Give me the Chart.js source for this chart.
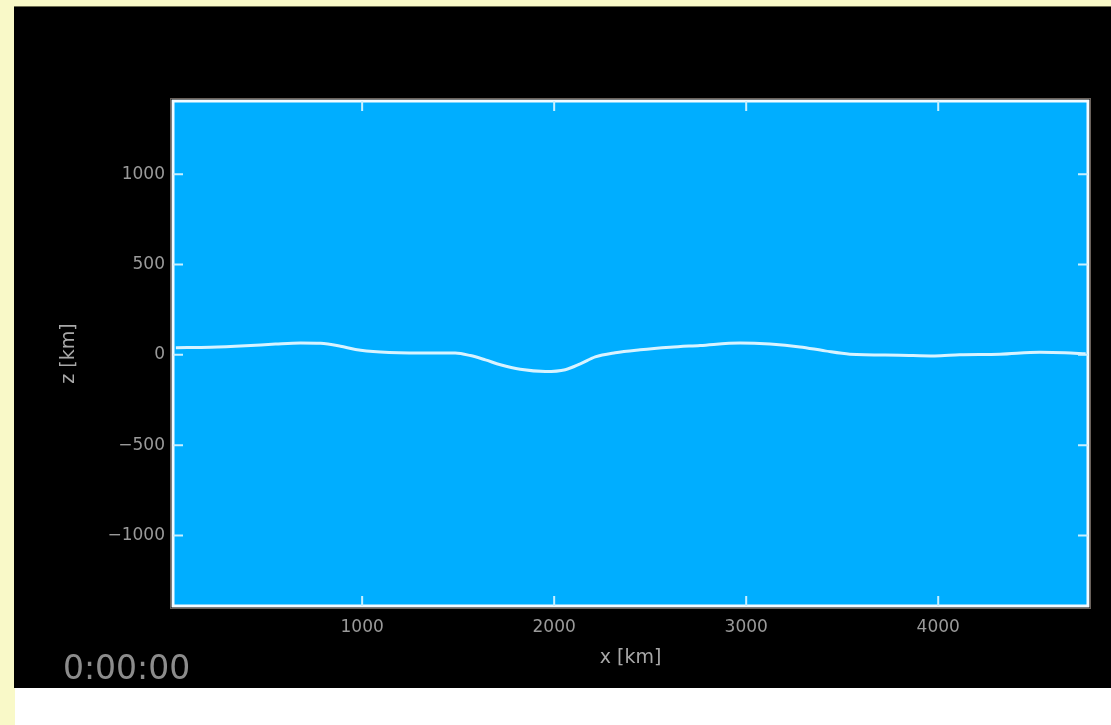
<!DOCTYPE html>
<html>
<head>
<meta charset="utf-8">
<script src="https://cdn.jsdelivr.net/npm/chart.js@4.4.1/dist/chart.umd.min.js"></script>
<style>
  html, body { margin: 0; padding: 0; width: 1111px; height: 725px; overflow: hidden; background: #f9f9c8; }
  #panel { position: absolute; left: 14px; top: 6px; width: 1097px; height: 682px; background: #000; }
  #topline { position: absolute; left: 14px; top: 6px; width: 1097px; height: 1px; background: #6d6d52; }
  #foot { position: absolute; left: 15px; top: 688px; width: 1096px; height: 37px; background: #fff; }
</style>
</head>
<body>
<div id="panel"><canvas id="chart" width="1097" height="682"></canvas></div>
<div id="topline"></div>
<div id="foot"></div>
<script>
// interface profile
const xKm = [30, 211, 393, 549, 679, 783, 887, 965, 1095, 1303, 1485, 1564, 1642, 1720,
             1823, 1954, 2058, 2136, 2214, 2318, 2448, 2604, 2760, 2968, 3124, 3280,
             3410, 3540, 3800, 3982, 4112, 4321, 4529, 4659, 4768];
const zKm = [40, 42, 50, 60, 66, 64, 48, 30, 16, 10, 10, -4, -28, -55,
             -80, -92, -82, -50, -11, 12, 28, 42, 52, 66, 60, 44,
             22, 4, -2, -6, 0, 3, 14, 12, 6];
const xTicks = [1000, 2000, 3000, 4000];
const zTicks = [-1000, -500, 0, 500, 1000];
const xRange = [15, 4780];
const zRange = [-1390, 1405];
const timeLabel = "0:00:00";

const labelColor = "#9a9a9a";
const fmt = v => (v < 0 ? "\u2212" + Math.abs(v) : String(v));

// blue plot background
const plotBg = {
  id: "plotBg",
  beforeDraw(chart) {
    const {ctx, chartArea: a} = chart;
    ctx.save();
    ctx.fillStyle = "#00aeff";
    ctx.fillRect(a.left, a.top, a.right - a.left, a.bottom - a.top);
    ctx.restore();
  }
};

// white frame with inward ticks on all sides
const frame = {
  id: "frame",
  afterDatasetsDraw(chart) {
    const {ctx, chartArea: a, scales} = chart;
    ctx.save();
    ctx.strokeStyle = "#6a625c";
    ctx.lineWidth = 1;
    ctx.strokeRect(a.left - 2.5, a.top - 2.5, a.right - a.left + 5, a.bottom - a.top + 5);
    ctx.strokeStyle = "#f4fbff";
    ctx.lineWidth = 3;
    ctx.strokeRect(a.left, a.top, a.right - a.left, a.bottom - a.top);

    ctx.strokeStyle = "#c8f0ff";
    ctx.lineWidth = 2;
    ctx.beginPath();
    xTicks.forEach(v => {
      const px = scales.x.getPixelForValue(v);
      ctx.moveTo(px, a.top); ctx.lineTo(px, a.top + 10);
      ctx.moveTo(px, a.bottom); ctx.lineTo(px, a.bottom - 10);
    });
    zTicks.forEach(v => {
      const py = scales.y.getPixelForValue(v);
      ctx.moveTo(a.left, py); ctx.lineTo(a.left + 10, py);
      ctx.moveTo(a.right, py); ctx.lineTo(a.right - 10, py);
    });
    ctx.stroke();
    ctx.restore();
  },
  afterDraw(chart) {
    const ctx = chart.ctx;
    ctx.save();
    ctx.fillStyle = "#8c8c8c";
    ctx.font = "33px 'DejaVu Sans'";
    ctx.textAlign = "left";
    ctx.textBaseline = "middle";
    ctx.fillText(timeLabel, 49, 664);
    ctx.restore();
  }
};

new Chart(document.getElementById("chart"), {
  type: "line",
  data: {
    datasets: [{
      data: xKm.map((x, i) => ({x: x, y: zKm[i]})),
      borderColor: "#d8f3ff",
      borderWidth: 3,
      pointRadius: 0,
      tension: 0.4,
      cubicInterpolationMode: "monotone"
    }]
  },
  options: {
    responsive: false,
    animation: false,
    layout: { padding: { top: 95, right: 23, left: 0, bottom: 0 } },
    plugins: { legend: { display: false }, tooltip: { enabled: false } },
    scales: {
      x: {
        type: "linear",
        min: xRange[0], max: xRange[1],
        border: { display: false },
        grid: { display: false, drawTicks: false },
        afterBuildTicks: s => { s.ticks = xTicks.map(v => ({value: v})); },
        afterFit: s => { s.height = 82; },
        ticks: {
          color: labelColor, padding: 11,
          font: { family: "DejaVu Sans", size: 17 },
          maxRotation: 0, callback: v => fmt(v)
        },
        title: {
          display: true, text: "x [km]", color: "#a8a8a8",
          font: { family: "DejaVu Sans", size: 19 },
          padding: { top: 0, bottom: 19 }
        }
      },
      y: {
        min: zRange[0], max: zRange[1],
        border: { display: false },
        grid: { display: false, drawTicks: false },
        afterBuildTicks: s => { s.ticks = zTicks.map(v => ({value: v})); },
        afterFit: s => { s.width = 159; },
        ticks: {
          color: labelColor, padding: 8,
          font: { family: "DejaVu Sans", size: 17 },
          callback: v => fmt(v)
        },
        title: {
          display: true, text: "z [km]", color: "#a8a8a8",
          font: { family: "DejaVu Sans", size: 19 },
          padding: { top: 44, bottom: 0 }
        }
      }
    }
  },
  plugins: [plotBg, frame]
});
</script>
</body>
</html>
